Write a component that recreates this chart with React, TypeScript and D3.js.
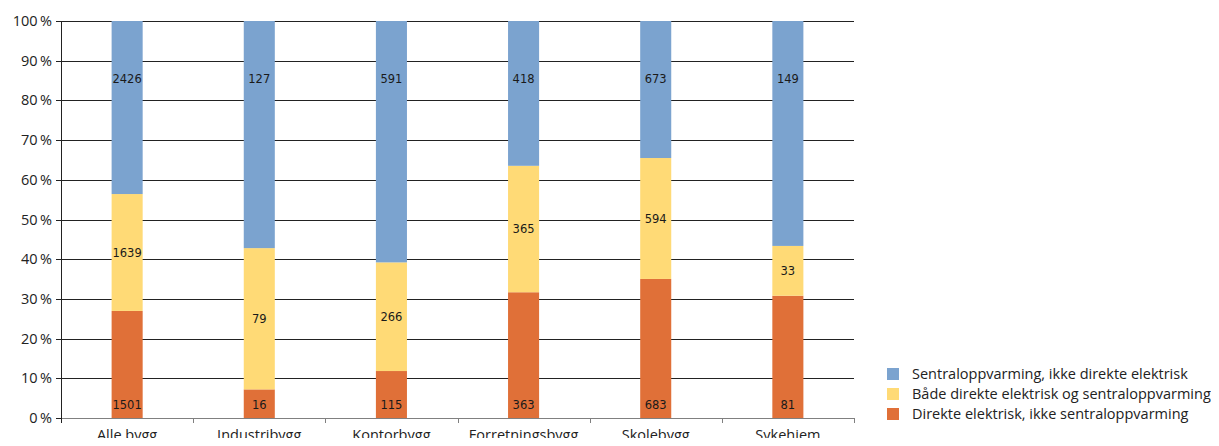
import * as React from 'react';
import * as d3 from 'd3';

const categories = ['Alle bygg', 'Industribygg', 'Kontorbygg', 'Forretningsbygg', 'Skolebygg', 'Sykehjem'];
const seriesNames = [
  'Direkte elektrisk, ikke sentraloppvarming',
  'Både direkte elektrisk og sentraloppvarming',
  'Sentraloppvarming, ikke direkte elektrisk',
];
const direkte = [1501, 16, 115, 363, 683, 81];
const begge = [1639, 79, 266, 365, 594, 33];
const sentral = [2426, 127, 591, 418, 673, 149];
const yTicks = [0, 0.1, 0.2, 0.3, 0.4, 0.5, 0.6, 0.7, 0.8, 0.9, 1];
const colors = ['#E07038', '#FFDA76', '#7BA3CF'];

const width = 1219;
const height = 446;
const margin = { top: 21, right: 365, bottom: 28, left: 61 };
const axisFont = '"Open Sans", "Noto Sans", sans-serif';
const labelFont = '"DejaVu Sans", Verdana, sans-serif';

export default function App() {
  const ref = React.useRef<SVGSVGElement | null>(null);

  React.useEffect(() => {
    if (!ref.current) return;
    const svg = d3.select(ref.current);
    svg.selectAll('*').remove();

    const rows = categories.map((c, i) => {
      const tot = direkte[i] + begge[i] + sentral[i];
      return { cat: c, vals: [direkte[i], begge[i], sentral[i]], tot };
    });

    const x = d3.scaleBand<string>()
      .domain(categories)
      .range([margin.left, width - margin.right])
      .paddingInner(0.765)
      .paddingOuter(0.383);
    const band = d3.scaleBand<string>().domain(categories).range([margin.left, width - margin.right]);
    const y = d3.scaleLinear().domain([0, 1]).range([height - margin.bottom, margin.top]);

    // gridlines
    svg.append('g')
      .selectAll('line')
      .data(yTicks.filter(t => t > 0))
      .join('line')
      .attr('x1', margin.left)
      .attr('x2', width - margin.right)
      .attr('y1', d => Math.round(y(d)) + 0.5)
      .attr('y2', d => Math.round(y(d)) + 0.5)
      .attr('stroke', '#222')
      .attr('stroke-width', 1);

    // bars
    rows.forEach(r => {
      let acc = 0;
      r.vals.forEach((v, k) => {
        const y0 = acc / r.tot;
        const y1 = (acc + v) / r.tot;
        acc += v;
        svg.append('rect')
          .attr('x', x(r.cat) ?? 0)
          .attr('width', x.bandwidth())
          .attr('y', y(y1))
          .attr('height', y(y0) - y(y1))
          .attr('fill', colors[k]);
        let ly: number;
        if (k === 0) ly = y(0) - 13;
        else if (k === 1) ly = y((y0 + y1) / 2);
        else ly = y(0.855);
        svg.append('text')
          .attr('x', (x(r.cat) ?? 0) + x.bandwidth() / 2)
          .attr('y', ly)
          .attr('dy', '0.35em')
          .attr('text-anchor', 'middle')
          .attr('font-family', labelFont)
          .attr('font-size', 11.5)
          .attr('fill', '#1a1a1a')
          .text(String(v));
      });
    });

    // x axis
    const xa = svg.append('g');
    xa.append('line')
      .attr('x1', margin.left).attr('x2', width - margin.right)
      .attr('y1', y(0) + 0.5).attr('y2', y(0) + 0.5)
      .attr('stroke', '#808080');
    const bounds = categories.map(c => band(c) ?? 0).concat([width - margin.right]);
    xa.selectAll('line.tick')
      .data(bounds.slice(1))
      .join('line')
      .attr('class', 'tick')
      .attr('x1', d => Math.round(d) + 0.5).attr('x2', d => Math.round(d) + 0.5)
      .attr('y1', y(0)).attr('y2', y(0) + 5)
      .attr('stroke', '#808080');
    xa.selectAll('text')
      .data(categories)
      .join('text')
      .attr('x', d => (band(d) ?? 0) + band.bandwidth() / 2)
      .attr('y', y(0) + 22)
      .attr('text-anchor', 'middle')
      .attr('font-family', axisFont)
      .attr('font-size', 14.5)
      .attr('fill', '#222')
      .text(d => d);

    // y axis
    const ya = svg.append('g');
    ya.append('line')
      .attr('x1', margin.left + 0.5).attr('x2', margin.left + 0.5)
      .attr('y1', y(1)).attr('y2', y(0) + 5)
      .attr('stroke', '#222');
    ya.selectAll('line.tick')
      .data(yTicks)
      .join('line')
      .attr('class', 'tick')
      .attr('x1', margin.left - 5).attr('x2', margin.left)
      .attr('y1', d => Math.round(y(d)) + 0.5).attr('y2', d => Math.round(y(d)) + 0.5)
      .attr('stroke', '#222');
    ya.selectAll('text')
      .data(yTicks)
      .join('text')
      .attr('x', margin.left - 9)
      .attr('y', d => y(d))
      .attr('dy', '0.35em')
      .attr('text-anchor', 'end')
      .attr('font-family', axisFont)
      .attr('font-size', 14.5)
      .attr('fill', '#222')
      .text(d => `${Math.round(d * 100)}\u2009%`);

    // legend
    const order = [2, 1, 0];
    const lg = svg.append('g').attr('transform', 'translate(887,374)');
    order.forEach((k, i) => {
      lg.append('rect')
        .attr('x', 0).attr('y', i * 20 - 6)
        .attr('width', 12).attr('height', 12)
        .attr('fill', colors[k]);
      lg.append('text')
        .attr('x', 25).attr('y', i * 20)
        .attr('dy', '0.35em')
        .attr('font-family', axisFont)
        .attr('font-size', 14.5)
        .attr('fill', '#222')
        .text(seriesNames[k]);
    });
  }, []);

  return <svg ref={ref} width={width} height={height} style={{ display: 'block', margin: '-8px' }} />;
}
